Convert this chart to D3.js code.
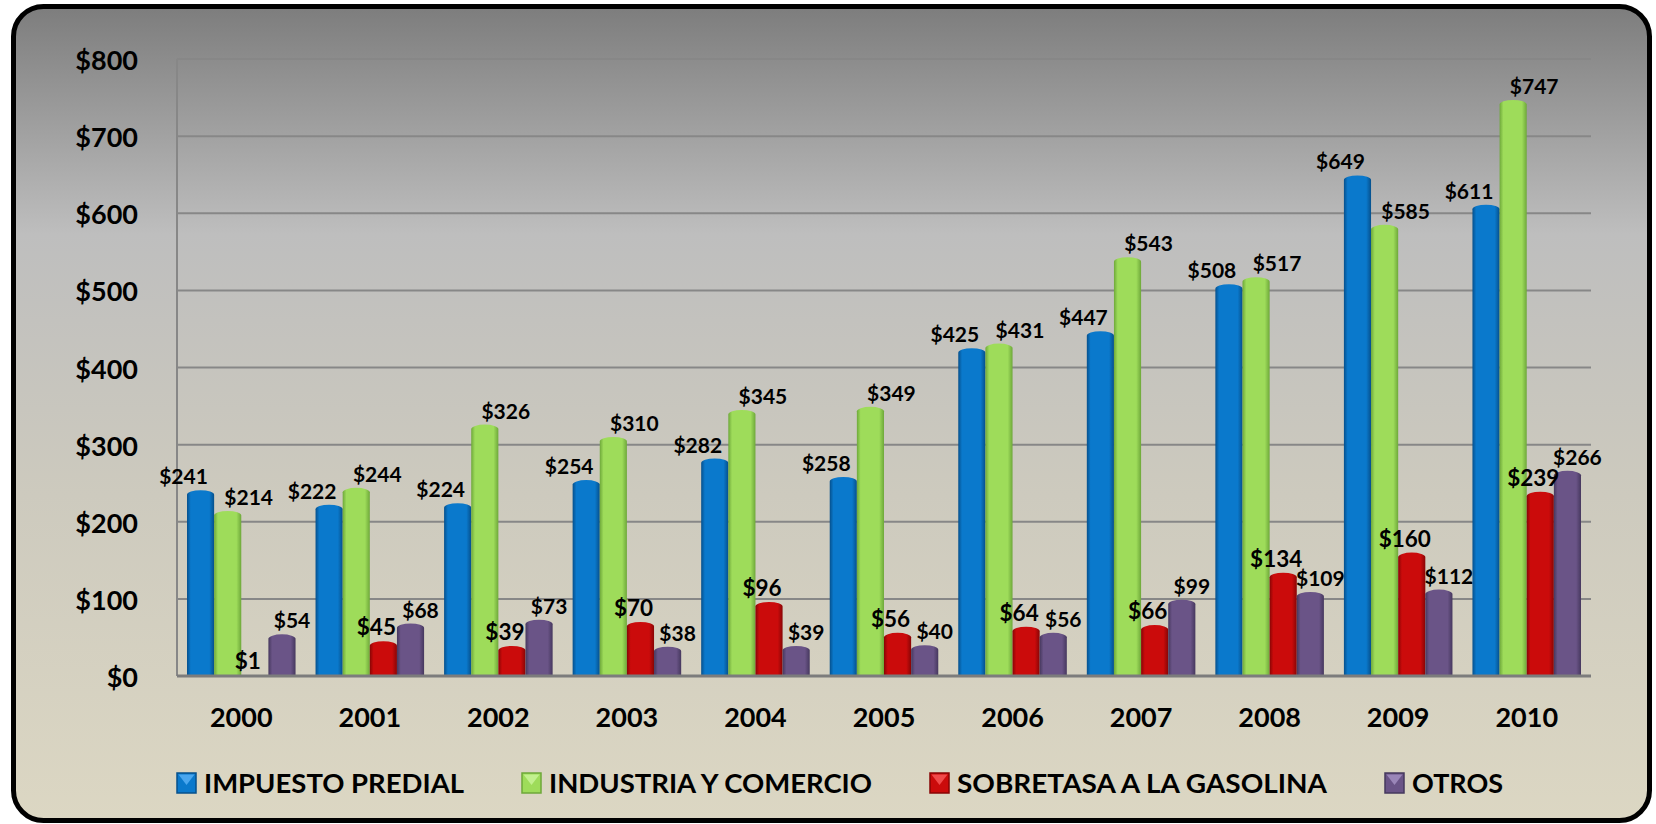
<!DOCTYPE html>
<html>
<head>
<meta charset="utf-8">
<script src="https://cdn.jsdelivr.net/npm/d3@7"></script>
<style>
  body { margin: 0; background: #fff; }
  svg { display: block; font-family: Lato, "Open Sans", sans-serif; font-weight: bold; }
</style>
</head>
<body>
<svg id="chart"></svg>
<script>
(function() {

    // data (millions of pesos)
    var years = ["2000", "2001", "2002", "2003", "2004", "2005", "2006", "2007", "2008", "2009", "2010"];
    var seriesNames = ["IMPUESTO PREDIAL", "INDUSTRIA Y COMERCIO", "SOBRETASA A LA GASOLINA", "OTROS"];
    var predial   = [241, 222, 224, 254, 282, 258, 425, 447, 508, 649, 611];
    var industria = [214, 244, 326, 310, 345, 349, 431, 543, 517, 585, 747];
    var sobretasa = [1, 45, 39, 70, 96, 56, 64, 66, 134, 160, 239];
    var otros     = [54, 68, 73, 38, 39, 40, 56, 99, 109, 112, 266];
    var yTicks = [0, 100, 200, 300, 400, 500, 600, 700, 800];

    var seriesValues = [predial, industria, sobretasa, otros];
    var baseColors = ["#0a79cc", "#9edc5a", "#cb0b0b", "#6a5487"];
    var darkColors = ["#06508c", "#6ea83a", "#880505", "#46385e"];
    var lightColors = ["#4aa6ee", "#c2f08e", "#f04a4a", "#9a86b8"];
    var labelDx = [-17, 21, -7, 10];
    var labelSize = [21, 21, 22.5, 21];
    var legendWidths = [260, 323, 370, 91];

    var width = 1656, height = 824;
    var svg = d3.select("#chart").attr("width", width).attr("height", height);
    var defs = svg.append("defs");

    // background of the frame
    var bg = defs.append("linearGradient").attr("id", "bg")
        .attr("x1", 0).attr("y1", 0).attr("x2", 0).attr("y2", 1);
    [["0%", "#7d7d7d"], ["28%", "#bebebe"], ["60%", "#cdcabe"], ["100%", "#dcd7c3"]].forEach(function(s) {
        bg.append("stop").attr("offset", s[0]).attr("stop-color", s[1]);
    });

    // cylinder shading per series
    seriesNames.forEach(function(name, i) {
        var g = defs.append("linearGradient").attr("id", "cyl" + i)
            .attr("x1", 0).attr("y1", 0).attr("x2", 1).attr("y2", 0);
        g.append("stop").attr("offset", "0%").attr("stop-color", darkColors[i]);
        g.append("stop").attr("offset", "14%").attr("stop-color", baseColors[i]);
        g.append("stop").attr("offset", "82%").attr("stop-color", baseColors[i]);
        g.append("stop").attr("offset", "100%").attr("stop-color", darkColors[i]);
    });

    svg.append("rect")
        .attr("x", 13.5).attr("y", 6.5)
        .attr("width", 1636).attr("height", 814)
        .attr("rx", 30).attr("ry", 30)
        .attr("fill", "url(#bg)")
        .attr("stroke", "#000")
        .attr("stroke-width", 5);

    var left = 177, right = 1591, top = 59, bottom = 676;

    var y = d3.scaleLinear().domain([0, 800]).range([bottom, top]);
    var x0 = d3.scaleBand().domain(years).range([left, right]);
    var x1 = d3.scaleBand().domain(d3.range(seriesNames.length)).range([10, x0.bandwidth() - 10]);

    // grid
    svg.append("g").selectAll("line")
        .data(yTicks.filter(function(d) { return d > 0; }))
        .enter().append("line")
        .attr("x1", left).attr("x2", right)
        .attr("y1", function(d) { return y(d); })
        .attr("y2", function(d) { return y(d); })
        .attr("stroke", "#878787")
        .attr("stroke-width", 2);

    svg.append("line")
        .attr("x1", left).attr("x2", left)
        .attr("y1", top).attr("y2", bottom)
        .attr("stroke", "#878787").attr("stroke-width", 2);

    // y labels
    svg.append("g").selectAll("text")
        .data(yTicks)
        .enter().append("text")
        .attr("x", 138)
        .attr("y", function(d) { return y(d) + 11; })
        .attr("text-anchor", "end")
        .attr("font-size", 27)
        .attr("fill", "#000")
        .text(function(d) { return "$" + d; });

    // x labels
    svg.append("g").selectAll("text")
        .data(years)
        .enter().append("text")
        .attr("x", function(d) { return x0(d) + x0.bandwidth() / 2; })
        .attr("y", 727)
        .attr("text-anchor", "middle")
        .attr("font-size", 27)
        .attr("fill", "#000")
        .text(function(d) { return d; });

    var rows = [];
    years.forEach(function(yr, j) {
        seriesValues.forEach(function(vals, i) {
            rows.push({ year: yr, s: i, value: vals[j] });
        });
    });

    function cylinder(d) {
        var w = x1.bandwidth();
        var bx = x0(d.year) + x1(d.s);
        var yt = y(d.value);
        var ry = Math.min(4.5, (bottom - yt) / 2);
        return "M" + bx + "," + bottom +
            "L" + bx + "," + (yt + ry) +
            "A" + (w / 2) + "," + ry + " 0 0 1 " + (bx + w) + "," + (yt + ry) +
            "L" + (bx + w) + "," + bottom + "Z";
    }

    var bars = svg.append("g");
    bars.selectAll("path")
        .data(rows.filter(function(d) { return y(d.value) < bottom - 2; }))
        .enter().append("path")
        .attr("d", cylinder)
        .attr("fill", function(d) { return "url(#cyl" + d.s + ")"; });

    // axis base line
    svg.append("line")
        .attr("x1", left).attr("x2", right)
        .attr("y1", bottom).attr("y2", bottom)
        .attr("stroke", "#7c7c7c").attr("stroke-width", 3);

    // value labels
    svg.append("g").selectAll("text")
        .data(rows)
        .enter().append("text")
        .attr("x", function(d) { return x0(d.year) + x1(d.s) + x1.bandwidth() / 2 + labelDx[d.s]; })
        .attr("y", function(d) { return y(d.value) - 6; })
        .attr("text-anchor", "middle")
        .attr("font-size", function(d) { return labelSize[d.s]; })
        .attr("fill", "#000")
        .text(function(d) { return "$" + d.value; });

    // legend
    var legend = svg.append("g");
    var lx = 177;
    seriesNames.forEach(function(name, i) {
        var item = legend.append("g");
        item.append("rect")
            .attr("x", lx).attr("y", 773)
            .attr("width", 19).attr("height", 20)
            .attr("fill", baseColors[i])
            .attr("stroke", darkColors[i]).attr("stroke-width", 1.5);
        item.append("path")
            .attr("d", "M" + (lx + 1.5) + ",774.5L" + (lx + 17.5) + ",774.5L" + (lx + 9.5) + ",785Z")
            .attr("fill", lightColors[i]);
        item.append("text")
            .attr("x", lx + 27).attr("y", 793)
            .attr("font-size", 27)
            .attr("textLength", legendWidths[i])
            .attr("lengthAdjust", "spacingAndGlyphs")
            .attr("fill", "#000")
            .text(name);
        lx += 27 + legendWidths[i] + 58;
    });

})();
</script>
</body>
</html>
